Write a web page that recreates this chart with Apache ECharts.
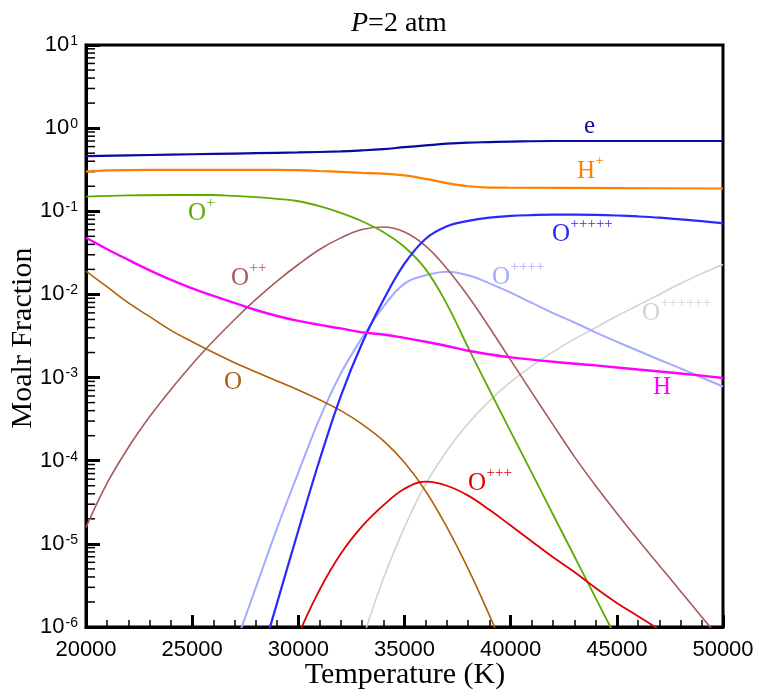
<!DOCTYPE html>
<html>
<head>
<meta charset="utf-8">
<script src="https://cdn.jsdelivr.net/npm/echarts@6/dist/echarts.min.js"></script>
<style>
  html, body { margin: 0; padding: 0; background: #fff; }
  #main { width: 759px; height: 696px; }
</style>
</head>
<body>
<div id="main"></div>
<script>
// temperature (K) vs molar fraction
const eData = [[20000, 0.46], [22000, 0.47], [24000, 0.48], [26000, 0.49], [28000, 0.50], [30000, 0.51], [32000, 0.525], [33000, 0.54], [34000, 0.56], [35000, 0.59], [36000, 0.62], [37000, 0.65], [38000, 0.67], [39000, 0.68], [40000, 0.69], [42000, 0.70], [45000, 0.70], [50000, 0.70]]
const hPlusData = [[20000, 0.30], [21000, 0.31], [23000, 0.315], [26000, 0.315], [29000, 0.315], [30000, 0.312], [31000, 0.305], [32000, 0.298], [33000, 0.29], [34000, 0.283], [35000, 0.27], [36000, 0.245], [37000, 0.218], [38000, 0.20], [39000, 0.193], [40000, 0.192], [45000, 0.19], [50000, 0.188]]
const oPlusData = [[20000, 0.150], [22000, 0.155], [24000, 0.157], [26000, 0.157], [27000, 0.153], [28000, 0.148], [29000, 0.141], [30000, 0.132], [31000, 0.115], [32000, 0.0955], [33000, 0.0759], [34000, 0.0562], [35000, 0.0372], [36000, 0.0200], [37000, 7.6e-3], [38000, 2.29e-3], [39000, 7.1e-4], [40000, 2.24e-4], [41000, 7.1e-5], [42000, 2.24e-5], [43000, 7.1e-6], [44000, 2.24e-6], [45000, 7.1e-7]]
const o2Data = [[20000, 1.58e-5], [21000, 5.4e-5], [22000, 1.45e-4], [23000, 3.4e-4], [24000, 7.2e-4], [25000, 1.45e-3], [26000, 2.75e-3], [27000, 5.0e-3], [28000, 8.7e-3], [29000, 0.0145], [30000, 0.0229], [31000, 0.0347], [32000, 0.0479], [33000, 0.0603], [34000, 0.0646], [35000, 0.0562], [36000, 0.038], [37000, 0.0204], [38000, 9.5e-3], [39000, 4.0e-3], [40000, 1.62e-3], [41000, 6.6e-4], [42000, 2.7e-4], [43000, 1.12e-4], [44000, 5.0e-5], [45000, 2.34e-5], [46000, 1.12e-5], [47000, 5.5e-6], [48000, 2.7e-6], [49000, 1.32e-6], [50000, 6.5e-7]]
const oData = [[20000, 0.0191], [21000, 0.0123], [22000, 7.9e-3], [23000, 5.4e-3], [24000, 3.7e-3], [25000, 2.7e-3], [26000, 2.0e-3], [27000, 1.51e-3], [28000, 1.17e-3], [29000, 9.1e-4], [30000, 7.1e-4], [31000, 5.4e-4], [32000, 4.0e-4], [33000, 2.75e-4], [34000, 1.74e-4], [35000, 9.5e-5], [36000, 4.3e-5], [37000, 1.58e-5], [38000, 5.0e-6], [39000, 1.38e-6], [39500, 6.9e-7]]
const hData = [[20000, 0.048], [21000, 0.035], [22000, 0.026], [23000, 0.0195], [24000, 0.0150], [25000, 0.0118], [26000, 0.0096], [27000, 0.0079], [28000, 0.0065], [29000, 0.0055], [30000, 0.0048], [31000, 0.0043], [32000, 0.0039], [33000, 0.0035], [34000, 0.0033], [35000, 0.0030], [36000, 0.0027], [37000, 0.0024], [38000, 0.0021], [39000, 0.0019], [40000, 0.00175], [42000, 0.00155], [44000, 0.0014], [46000, 0.00125], [48000, 0.00112], [50000, 0.00099]]
const o5Data = [[28500, 7.2e-7], [29000, 1.95e-6], [30000, 1.45e-5], [31000, 1.02e-4], [32000, 6.0e-4], [33000, 2.57e-3], [34000, 8.5e-3], [35000, 0.0234], [36000, 0.0468], [37000, 0.066], [38000, 0.0767], [39000, 0.084], [40000, 0.088], [41000, 0.090], [42000, 0.0912], [43000, 0.0912], [44000, 0.0906], [45000, 0.089], [46000, 0.0867], [47000, 0.0838], [48000, 0.080], [49000, 0.0762], [50000, 0.0716]]
const o4Data = [[27000, 5.75e-7], [28000, 3.0e-6], [29000, 1.55e-5], [30000, 7.2e-5], [31000, 3.2e-4], [32000, 1.12e-3], [33000, 3.0e-3], [34000, 7.1e-3], [35000, 0.0135], [36000, 0.0170], [37000, 0.0188], [38000, 0.0170], [39000, 0.0136], [40000, 0.0105], [41000, 7.9e-3], [42000, 5.95e-3], [43000, 4.6e-3], [44000, 3.5e-3], [45000, 2.7e-3], [46000, 2.1e-3], [47000, 1.64e-3], [48000, 1.29e-3], [49000, 1.0e-3], [50000, 7.8e-4]]
const o3Data = [[30000, 8.1e-7], [31000, 2.8e-6], [32000, 7.6e-6], [33000, 1.62e-5], [34000, 2.9e-5], [35000, 4.6e-5], [36000, 5.6e-5], [37000, 5.0e-5], [38000, 3.8e-5], [39000, 2.57e-5], [40000, 1.66e-5], [41000, 1.07e-5], [42000, 6.9e-6], [43000, 4.6e-6], [44000, 2.95e-6], [45000, 1.95e-6], [46000, 1.35e-6], [47000, 9.3e-7]]
const o6Data = [[33000, 6.8e-7], [34000, 3.8e-6], [35000, 1.58e-5], [36000, 5.25e-5], [37000, 1.32e-4], [38000, 2.8e-4], [39000, 5.25e-4], [40000, 8.9e-4], [41000, 1.38e-3], [42000, 2.04e-3], [43000, 2.9e-3], [44000, 3.98e-3], [45000, 5.5e-3], [46000, 7.4e-3], [47000, 0.010], [48000, 0.0135], [49000, 0.0178], [50000, 0.0229]]

const serif = 'Liberation Serif'
const sans = 'Liberation Sans'

function line(name, data, color, width) {
  return {
    name: name,
    type: 'line',
    data: data,
    smooth: 0.4,
    showSymbol: false,
    clip: true,
    lineStyle: { color: color, width: width }
  }
}

const chart = echarts.init(document.getElementById('main'))
const option = {
  animation: false,
  backgroundColor: '#fff',
  title: {
    text: '{i|P}=2 atm',
    left: 346,
    top: 5,
    textStyle: {
      fontFamily: serif,
      fontSize: 28,
      fontWeight: 'normal',
      color: '#000',
      rich: {
        i: { fontFamily: serif, fontSize: 28, fontStyle: 'italic', color: '#000' }
      }
    }
  },
  grid: {
    left: 86,
    right: 36,
    top: 45,
    bottom: 69,
    containLabel: false,
    outerBoundsMode: 'none',
    show: true,
    borderColor: '#000',
    borderWidth: 3
  },
  xAxis: {
    type: 'value',
    min: 20000,
    max: 50000,
    interval: 5000,
    axisLine: { lineStyle: { color: '#000', width: 3 } },
    axisTick: { inside: true, length: 12, lineStyle: { color: '#000', width: 3 } },
    minorTick: { show: true, splitNumber: 5, length: 7, lineStyle: { color: '#000', width: 1.5 } },
    splitLine: { show: false },
    axisLabel: {
      fontFamily: sans, fontSize: 22, color: '#000', margin: 12,
      formatter: function(v) { return String(v) }
    }
  },
  yAxis: {
    type: 'log',
    logBase: 10,
    min: 1e-6,
    max: 10,
    interval: 1,
    axisLine: { lineStyle: { color: '#000', width: 3 } },
    axisTick: { inside: true, length: 14, lineStyle: { color: '#000', width: 3 } },
    splitLine: { show: false },
    axisLabel: {
      margin: 8,
      color: '#000',
      formatter: function(v) {
        return '{b|10}{e|' + Math.round(Math.log10(v)) + '}'
      },
      rich: {
        b: { fontFamily: sans, fontSize: 22, color: '#000', verticalAlign: 'bottom' },
        e: { fontFamily: sans, fontSize: 14, color: '#000', verticalAlign: 'top', padding: [0, 0, 0, 1] }
      }
    }
  },
  series: [
    line('O++++++', o6Data, '#D2D2D2', 1.6),
    line('O++++', o4Data, '#A4ABFF', 2),
    line('O', oData, '#B0600A', 1.6),
    line('O++', o2Data, '#A85A5A', 1.6),
    line('O+', oPlusData, '#5CAC00', 1.8),
    line('O+++', o3Data, '#E00000', 1.8),
    line('O+++++', o5Data, '#2828FF', 2.2),
    line('H', hData, '#FF00FF', 2.4),
    line('H+', hPlusData, '#FF8000', 2.2),
    line('e', eData, '#0A0AA0', 2.2)
  ]
}
chart.setOption(option)

const graphic = []
// axis titles
graphic.push({
  type: 'text', x: 405, y: 675, silent: true,
  style: { text: 'Temperature (K)', fill: '#000', font: '30px "Liberation Serif"', align: 'center', verticalAlign: 'middle' }
})
graphic.push({
  type: 'text', x: 23, y: 338, rotation: Math.PI / 2, silent: true,
  style: { text: 'Moalr Fraction', fill: '#000', font: '30px "Liberation Serif"', align: 'center', verticalAlign: 'middle' }
})

// curve labels: main letter + superscript charges
const labels = [
  { t: 'e', s: '', left: 584, base: 135, color: '#0A0AA0' },
  { t: 'H', s: '+', left: 577, base: 180, color: '#FF8000' },
  { t: 'O', s: '+', left: 188, base: 222, color: '#5CAC00' },
  { t: 'O', s: '++', left: 231, base: 287, color: '#A85A5A' },
  { t: 'O', s: '', left: 224, base: 391, color: '#B0600A' },
  { t: 'O', s: '+++++', left: 552, base: 243, color: '#2828FF' },
  { t: 'O', s: '++++', left: 492, base: 286, color: '#A4ABFF' },
  { t: 'O', s: '++++++', left: 642, base: 322, color: '#D2D2D2' },
  { t: 'H', s: '', left: 653, base: 396, color: '#FF00FF' },
  { t: 'O', s: '+++', left: 468, base: 492, color: '#E00000' }
]
labels.forEach(function(l) {
  graphic.push({
    type: 'text', x: l.left, y: l.base - 8.5, silent: true,
    style: { text: l.t, fill: l.color, font: '25px "Liberation Serif"', verticalAlign: 'middle', align: 'left' }
  })
  if (l.s) {
    graphic.push({
      type: 'text', x: l.left + 18.5, y: l.base - 19, silent: true,
      style: { text: l.s, fill: l.color, font: '15px "Liberation Serif"', verticalAlign: 'middle', align: 'left' }
    })
  }
})

// log minor ticks (2..9 per decade) on the left axis
const x0 = chart.convertToPixel({ xAxisIndex: 0 }, 20000)
for (let k = -6; k < 1; k++) {
  for (let m = 2; m <= 9; m++) {
    const y = chart.convertToPixel({ yAxisIndex: 0 }, m * Math.pow(10, k))
    graphic.push({
      type: 'line', silent: true,
      shape: { x1: x0, y1: y, x2: x0 + 9, y2: y },
      style: { stroke: '#000', lineWidth: 1.5 }
    })
  }
}
chart.setOption({ graphic: graphic })
</script>
</body>
</html>
